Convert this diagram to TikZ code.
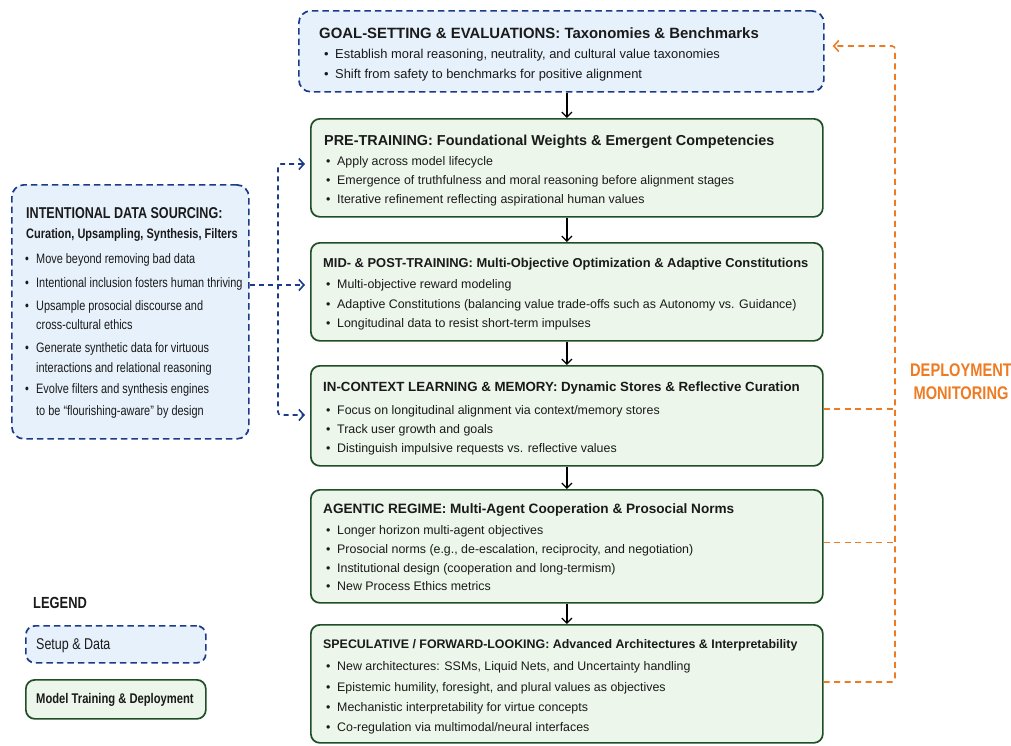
\documentclass[tikz,border=0pt]{standalone}
\usepackage{fontspec}
\setmainfont{Liberation Sans}
\newfontfamily\narrowfont{Liberation Sans}[FakeStretch=0.80]
\usetikzlibrary{arrows.meta,calc}
\definecolor{bluedash}{HTML}{1B3A8A}
\definecolor{bluefill}{HTML}{E7F1FB}
\definecolor{greenline}{HTML}{1F4F26}
\definecolor{greenfill}{HTML}{ECF6EA}
\definecolor{orng}{HTML}{EE7A22}
\definecolor{txt}{HTML}{1A1A1A}
\begin{document}
\begin{tikzpicture}[x=1pt,y=-1pt,
  >={Straight Barb[length=5pt,width=11pt]},
  setupbox/.style={draw=bluedash, fill=bluefill, line width=1.7pt, dash pattern=on 6.5pt off 4pt, rounded corners=12pt, inner sep=0pt, anchor=north west},
  modelbox/.style={draw=greenline, fill=greenfill, line width=1.7pt, rounded corners=9pt, inner sep=0pt, anchor=north west},
  ttl/.style={anchor=base west, inner sep=0pt, text=txt, font=\bfseries\fontsize{#1}{#1}\selectfont},
  nttl/.style={anchor=base west, inner sep=0pt, text=txt, font=\narrowfont\bfseries\fontsize{#1}{#1}\selectfont},
  itm/.style={anchor=base west, inner sep=0pt, text=txt, font=\fontsize{12.4}{14}\selectfont},
  gitm/.style={anchor=base west, inner sep=0pt, text=txt, font=\fontsize{12.9}{15}\selectfont},
  litm/.style={anchor=base west, inner sep=0pt, text=txt, font=\narrowfont\fontsize{13.65}{15}\selectfont},
  flowarrow/.style={draw=black, line width=1.3pt, -{Straight Barb[length=5pt,width=10pt]}},
  bluecon/.style={draw=bluedash, line width=1.6pt, dash pattern=on 5pt off 4pt},
  orangecon/.style={draw=orng, line width=1.6pt, dash pattern=on 6pt off 4.5pt}
]
\useasboundingbox (0,0) rectangle (1011,745);

% ---------- boxes ----------
\node[setupbox, minimum width=525pt, minimum height=81pt] (goal) at (298,10) {};
\node[modelbox, minimum width=512pt, minimum height=98pt] (pre) at (310,118) {};
\node[modelbox, minimum width=512pt, minimum height=98pt] (mid) at (310,242) {};
\node[modelbox, minimum width=512pt, minimum height=100pt] (ic) at (310,365) {};
\node[modelbox, minimum width=512pt, minimum height=113pt] (ag) at (310,489) {};
\node[modelbox, minimum width=512pt, minimum height=118pt] (spec) at (310,624) {};
\node[setupbox, minimum width=237pt, minimum height=254pt] (src) at (11,184) {};

% ---------- goal text ----------
\node[ttl=14.9] (g0) at (319,38) {GOAL-SETTING \& EVALUATIONS: Taxonomies \& Benchmarks};
\node[gitm] (g1b) at (324,58) {•};
\node[gitm] (g1) at (335,58) {Establish moral reasoning, neutrality, and cultural value taxonomies};
\node[gitm] (g2b) at (324,78) {•};
\node[gitm] (g2) at (335,78) {Shift from safety to benchmarks for positive alignment};

% ---------- pre ----------
\node[ttl=14.4] (p0) at (324,145) {PRE-TRAINING: Foundational Weights \& Emergent Competencies};
\node[itm] (p1b) at (326,165) {•};
\node[itm] (p1) at (337,165) {Apply across model lifecycle};
\node[itm] (p2b) at (326,184) {•};
\node[itm] (p2) at (337,184) {Emergence of truthfulness and moral reasoning before alignment stages};
\node[itm] (p3b) at (326,203) {•};
\node[itm] (p3) at (337,203) {Iterative refinement reflecting aspirational human values};

% ---------- mid ----------
\node[ttl=12.9] (m0) at (323,267) {MID- \& POST-TRAINING: Multi-Objective Optimization \& Adaptive Constitutions};
\node[itm] (m1b) at (326,288) {•};
\node[itm] (m1) at (337,288) {Multi-objective reward modeling};
\node[itm] (m2b) at (326,308) {•};
\node[itm] (m2) at (337,308) {Adaptive Constitutions (balancing value trade-offs such as Autonomy vs. Guidance)};
\node[itm] (m3b) at (326,327) {•};
\node[itm] (m3) at (337,327) {Longitudinal data to resist short-term impulses};

% ---------- in-context ----------
\node[ttl=13.3] (i0) at (323,391) {IN-CONTEXT LEARNING \& MEMORY: Dynamic Stores \& Reflective Curation};
\node[itm] (i1b) at (326,414) {•};
\node[itm] (i1) at (337,414) {Focus on longitudinal alignment via context/memory stores};
\node[itm] (i2b) at (326,433) {•};
\node[itm] (i2) at (337,433) {Track user growth and goals};
\node[itm] (i3b) at (326,452) {•};
\node[itm] (i3) at (337,452) {Distinguish impulsive requests vs. reflective values};

% ---------- agentic ----------
\node[ttl=13.6] (a0) at (323,513) {AGENTIC REGIME: Multi-Agent Cooperation \& Prosocial Norms};
\node[itm] (a1b) at (326,534) {•};
\node[itm] (a1) at (337,534) {Longer horizon multi-agent objectives};
\node[itm] (a2b) at (326,553) {•};
\node[itm] (a2) at (337,553) {Prosocial norms (e.g., de-escalation, reciprocity, and negotiation)};
\node[itm] (a3b) at (326,572) {•};
\node[itm] (a3) at (337,572) {Institutional design (cooperation and long-termism)};
\node[itm] (a4b) at (326,590) {•};
\node[itm] (a4) at (337,590) {New Process Ethics metrics};

% ---------- speculative ----------
\node[ttl=12.4] (s0) at (323,648) {SPECULATIVE / FORWARD-LOOKING: Advanced Architectures \& Interpretability};
\node[itm] (s1b) at (326,670) {•};
\node[itm] (s1) at (337,670) {New architectures: SSMs, Liquid Nets, and Uncertainty handling};
\node[itm] (s2b) at (326,691) {•};
\node[itm] (s2) at (337,691) {Epistemic humility, foresight, and plural values as objectives};
\node[itm] (s3b) at (326,711) {•};
\node[itm] (s3) at (337,711) {Mechanistic interpretability for virtue concepts};
\node[itm] (s4b) at (326,731) {•};
\node[itm] (s4) at (337,731) {Co-regulation via multimodal/neural interfaces};

% ---------- source box ----------
\node[nttl=15.7] (d0) at (26,218) {INTENTIONAL DATA SOURCING:};
\node[nttl=13.75] (d00) at (26,238) {Curation, Upsampling, Synthesis, Filters};
\node[litm] (d1b) at (25,263) {•};
\node[litm] (d1) at (36,263) {Move beyond removing bad data};
\node[litm] (d2b) at (25,287) {•};
\node[litm] (d2) at (36,287) {Intentional inclusion fosters human thriving};
\node[litm] (d3b) at (25,310) {•};
\node[litm] (d3) at (36,310) {Upsample prosocial discourse and};
\node[litm] (d3c) at (36,329) {cross-cultural ethics};
\node[litm] (d4b) at (25,352) {•};
\node[litm] (d4) at (36,352) {Generate synthetic data for virtuous};
\node[litm] (d4c) at (36,372) {interactions and relational reasoning};
\node[litm] (d5b) at (25,393) {•};
\node[litm] (d5) at (36,393) {Evolve filters and synthesis engines};
\node[litm] (d5c) at (36,415) {to be “flourishing-aware” by design};

% ---------- legend ----------
\node[nttl=16.1] (lg) at (33,608) {LEGEND};
\node[setupbox, minimum width=180pt, minimum height=37pt, rounded corners=9pt] (lg1) at (25,625) {};
\node[anchor=base west, inner sep=0pt, text=txt, font=\narrowfont\fontsize{15.6}{17}\selectfont] (lg1t) at (36,649) {Setup \& Data};
\node[modelbox, minimum width=180pt, minimum height=39pt] (lg2) at (25,679) {};
\node[nttl=14] (lg2t) at (36,703) {Model Training \& Deployment};

% ---------- monitoring label ----------
\node[align=center, inner sep=0pt, text=orng, font=\narrowfont\bfseries\fontsize{18.3}{23}\selectfont] (dm) at (961,382) {DEPLOYMENT\\MONITORING};

% ---------- flow arrows ----------
\draw[flowarrow] (goal.south -| pre.north) -- (pre.north);
\draw[flowarrow] (pre.south) -- (mid.north);
\draw[flowarrow] (mid.south) -- (ic.north);
\draw[flowarrow] (ic.south) -- (ag.north);
\draw[flowarrow] (ag.south) -- (spec.north);

% ---------- data sourcing connectors ----------
\coordinate (jn) at (278,285);
\coordinate (jt) at (278,164);
\coordinate (jb) at (278,415);
\draw[bluecon, ->, shorten >=5pt] (src.east |- jn) -- (mid.west |- jn);
\draw[bluecon, <->, shorten <=5pt, shorten >=5pt, rounded corners=3pt] (pre.west |- jt) -- (jt) -- (jb) -- (ic.west |- jb);

% ---------- deployment monitoring ----------
\coordinate (otop) at (895,46);
\coordinate (obot) at (895,682);
\coordinate (oi) at ($(ic.east)+(0,-7)$);
\coordinate (oa) at ($(ag.east)+(0,-4)$);
\draw[orangecon, rounded corners=3pt, ->, shorten >=8pt] (spec.east |- obot) -- (obot) -- (otop) -- (goal.east |- otop);
\draw[orangecon] (oi) -- (oi -| otop);
\draw[orangecon] (oa) -- (oa -| otop);
\end{tikzpicture}
\end{document}
